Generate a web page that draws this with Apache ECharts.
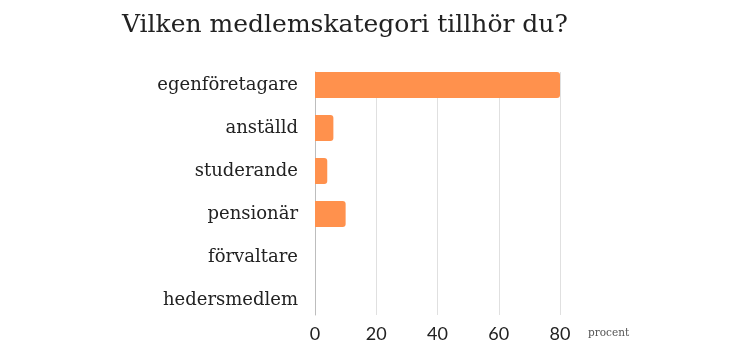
<!DOCTYPE html>
<html>
<head>
<meta charset="utf-8">
<script src="https://cdn.jsdelivr.net/npm/echarts@6/dist/echarts.min.js"></script>
<style>html,body{margin:0;padding:0;background:#fff;}#c{width:750px;height:355px;}</style>
</head>
<body>
<div id="c"></div>
<script>
const titleText = 'Vilken medlemskategori tillhör du?';
const categories = ['egenföretagare', 'anställd', 'studerande', 'pensionär', 'förvaltare', 'hedersmedlem'];
const values = [80, 6, 4, 10, 0, 0];
const xTicks = [0, 20, 40, 60, 80];
const axisName = 'procent';

const serif = '"DejaVu Serif", serif';
const chart = echarts.init(document.getElementById('c'), null, {renderer: 'canvas'});
chart.setOption({
  animation: false,
  backgroundColor: '#fff',
  title: {
    text: titleText,
    left: 117, top: 8,
    textStyle: {fontFamily: serif, fontWeight: 'normal', fontSize: 25, color: '#222'}
  },
  grid: [
    {left: 315, right: 190, top: 63.5, height: 258, outerBoundsMode: 'none', containLabel: false},
    {left: 315, right: 190, top: 72, height: 243, outerBoundsMode: 'none', containLabel: false}
  ],
  xAxis: [
    {
      gridIndex: 0, type: 'value', min: xTicks[0], max: xTicks[xTicks.length - 1], interval: 20,
      axisLine: {show: false}, axisTick: {show: false}, splitLine: {show: false},
      axisLabel: {margin: 4, fontFamily: 'Lato, sans-serif', fontSize: 18, color: '#222'},
      name: axisName, nameLocation: 'end', nameGap: 28,
      nameTextStyle: {fontFamily: serif, fontSize: 10.5, color: '#555', verticalAlign: 'top', padding: [6, 0, 0, 0]}
    },
    {
      gridIndex: 1, type: 'value', min: xTicks[0], max: xTicks[xTicks.length - 1], interval: 20,
      axisLine: {show: false}, axisTick: {show: false}, axisLabel: {show: false},
      splitLine: {show: true, lineStyle: {color: '#e0e0e0', width: 1}}
    }
  ],
  yAxis: [
    {
      gridIndex: 0, type: 'category', data: categories, inverse: true,
      axisLine: {show: false}, axisTick: {show: false},
      axisLabel: {margin: 17, fontFamily: serif, fontSize: 18, color: '#222'}
    },
    {
      gridIndex: 1, type: 'category', data: categories, inverse: true,
      axisLine: {show: true, lineStyle: {color: '#bdbdbd', width: 1}},
      axisTick: {show: false}, axisLabel: {show: false}, splitLine: {show: false}
    }
  ],
  series: [{
    type: 'bar', xAxisIndex: 0, yAxisIndex: 0, data: values, barWidth: 26, z: 5,
    itemStyle: {color: '#ff914d', borderRadius: [0, 3, 3, 0]}
  }]
});
</script>
</body>
</html>
